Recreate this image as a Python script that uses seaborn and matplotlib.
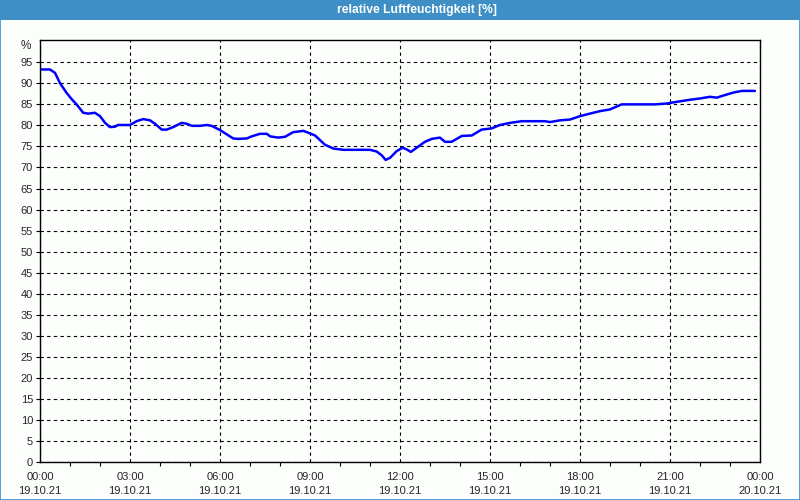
import matplotlib
matplotlib.use("Agg")
import matplotlib.pyplot as plt
import seaborn as sns
import pandas as pd
from matplotlib.patches import Rectangle
from matplotlib.ticker import MultipleLocator

hours = [0.0, 0.33, 0.5, 0.67, 0.89, 1.06, 1.22, 1.44, 1.61, 1.83, 2.0, 2.17, 2.33, 2.5, 2.6,
         3.0, 3.22, 3.44, 3.67, 3.83, 4.06, 4.22, 4.44, 4.72, 4.89, 5.06, 5.33, 5.56, 5.72,
         6.0, 6.22, 6.44, 6.61, 6.89, 7.06, 7.33, 7.56, 7.67, 7.94, 8.17, 8.44, 8.78,
         9.0, 9.17, 9.5, 9.78, 10.11, 11.0, 11.22, 11.39, 11.52, 11.67, 11.89,
         12.09, 12.22, 12.36, 12.56, 12.83, 13.06, 13.33, 13.5, 13.72, 14.06, 14.39, 14.72,
         15.06, 15.33, 15.67, 16.06, 16.83, 17.0, 17.33, 17.67, 18.0, 18.33, 18.67,
         19.0, 19.39, 20.5, 20.89, 21.22, 21.67, 22.0, 22.33, 22.56, 22.78, 23.11, 23.39, 23.83]
humidity = [93.3, 93.3, 92.5, 90.0, 87.7, 86.2, 85.0, 83.0, 82.8, 83.0, 82.2, 80.6, 79.6, 79.7, 80.1,
            80.1, 81.0, 81.5, 81.2, 80.4, 79.0, 79.0, 79.6, 80.6, 80.4, 79.9, 79.9, 80.1, 79.9,
            78.9, 77.9, 76.9, 76.8, 76.9, 77.4, 78.0, 78.0, 77.4, 77.1, 77.3, 78.4, 78.7,
            78.1, 77.6, 75.4, 74.5, 74.2, 74.2, 73.8, 72.9, 71.8, 72.3, 73.9,
            74.7, 74.3, 73.7, 74.7, 76.1, 76.8, 77.1, 76.1, 76.1, 77.5, 77.6, 79.0,
            79.3, 80.1, 80.6, 81.0, 81.0, 80.8, 81.2, 81.4, 82.2, 82.8, 83.4,
            83.8, 85.0, 85.0, 85.2, 85.6, 86.1, 86.4, 86.8, 86.6, 87.1, 87.8, 88.2, 88.2]

x_ticks = [0, 3, 6, 9, 12, 15, 18, 21, 24]
x_labels = ["00:00\n19.10.21", "03:00\n19.10.21", "06:00\n19.10.21", "09:00\n19.10.21",
            "12:00\n19.10.21", "15:00\n19.10.21", "18:00\n19.10.21", "21:00\n19.10.21",
            "00:00\n20.10.21"]
y_ticks = list(range(0, 100, 5))
title = "relative Luftfeuchtigkeit [%]"

df = pd.DataFrame({"h": hours, "v": humidity})

sns.set_theme(style="white")
plt.rcParams["font.family"] = ["Liberation Sans", "DejaVu Sans"]

bg = "#fcfefc"
fig = plt.figure(figsize=(8, 5), dpi=100, facecolor=bg)
ax = fig.add_axes([40/800, 1-462/500, 720/800, 422/500])
ax.set_facecolor(bg)

sns.lineplot(data=df, x="h", y="v", ax=ax, color="#0000ff", linewidth=1.8)

ax.set_xlim(0, 24)
ax.set_ylim(0, 100.3)
ax.set_xticks(x_ticks)
ax.set_xticklabels(x_labels, fontsize=8, linespacing=1.5)
ax.xaxis.set_minor_locator(MultipleLocator(1))
ax.set_yticks(y_ticks)
ax.set_yticklabels([str(v) for v in y_ticks], fontsize=8)
ax.tick_params(axis="x", which="major", direction="out", length=6, width=0.8, color="black", pad=1)
ax.tick_params(axis="x", which="minor", direction="out", length=3, width=0.8, color="black", bottom=True)
ax.tick_params(axis="y", which="major", direction="out", length=3, width=0.8, color="black", pad=2, left=True)
ax.set_xlabel("")
ax.set_ylabel("")
ax.grid(True, which="major", color="black", linestyle=(0, (3, 3)), linewidth=0.8)
for s in ax.spines.values():
    s.set_color("black")
    s.set_linewidth(1.0)
    s.set_visible(True)

ax.text(-0.3, 100.3, "%", ha="right", va="top", fontsize=8.5, transform=ax.transData)

# title bar
fig.patches.append(Rectangle((0, 1-20/500), 1, 20/500, transform=fig.transFigure,
                             facecolor="#3d8fc6", edgecolor="none", zorder=0))
fig.text(417/800, 1-10/500, title, ha="center", va="center", color="white",
         fontsize=8.7, fontweight="bold")
# border
fig.patches.append(Rectangle((0.0006, 0.001), 0.9988, 0.998, transform=fig.transFigure,
                             facecolor="none", edgecolor="#3d8fc6", linewidth=1.2, zorder=5))

fig.savefig("out.png", dpi=100, facecolor=bg)
